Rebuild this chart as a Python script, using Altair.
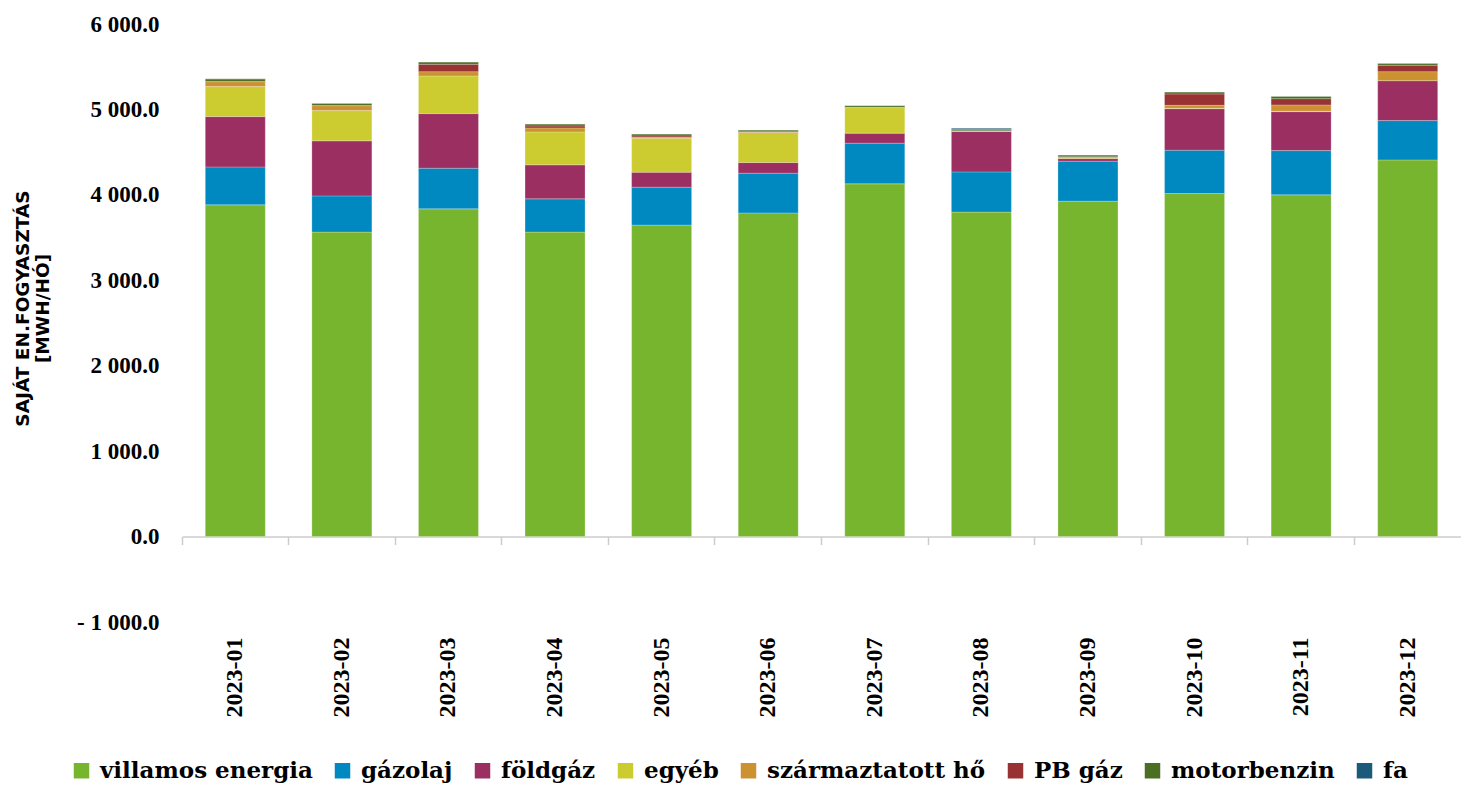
import altair as alt
import pandas as pd

months = ["2023-01", "2023-02", "2023-03", "2023-04", "2023-05", "2023-06",
          "2023-07", "2023-08", "2023-09", "2023-10", "2023-11", "2023-12"]
series_names = ["villamos energia", "gázolaj", "földgáz", "egyéb",
                "származtatott hő", "PB gáz", "motorbenzin", "fa"]
colors = ["#77B52F", "#0089C0", "#9B2F62", "#CCCC31",
          "#CC9131", "#993333", "#4A6F24", "#1B5A7A"]

villamos = [3883, 3564, 3836, 3564, 3646, 3789, 4129, 3798, 3926, 4015, 4000, 4409]
gazolaj = [444, 424, 476, 389, 444, 465, 476, 471, 468, 508, 518, 460]
foldgaz = [589, 644, 639, 398, 175, 124, 117, 476, 30, 486, 456, 468]
egyeb = [351, 354, 441, 386, 398, 351, 299, 0, 3, 5, 5, 0]
szarm = [58, 58, 50, 47, 10, 5, 3, 3, 15, 34, 74, 105]
pbgaz = [3, 3, 86, 23, 17, 5, 3, 3, 3, 133, 73, 75]
motor = [30, 25, 28, 23, 23, 20, 20, 18, 22, 24, 28, 23]
fa = [0, 0, 0, 0, 0, 0, 0, 12, 0, 0, 0, 0]

all_series = [villamos, gazolaj, foldgaz, egyeb, szarm, pbgaz, motor, fa]
rows = []
for si, (name, vals) in enumerate(zip(series_names, all_series)):
    for m, v in zip(months, vals):
        rows.append({"month": m, "series": name, "value": v, "order": si})
df = pd.DataFrame(rows)

SERIF = "Liberation Serif"
GRAY = "#CCCCCC"
H = 598
W = 1279
ZERO_OFFSET = -H * 1000 / 7000

label_expr = ("(datum.value < 0 ? '- ' : '') + "
              "replace(format(abs(datum.value), ',.1f'), ',', ' ')")

x_enc = alt.X("month:N", sort=months,
              scale=alt.Scale(paddingInner=0.437, paddingOuter=0.2185),
              axis=alt.Axis(title=None, orient="bottom", domain=False, ticks=False,
                            labelAngle=270, labelAlign="right", labelBaseline="middle",
                            labelPadding=15, labelFont=SERIF, labelFontSize=24,
                            labelFontWeight="bold", labelColor="#000000"))

bars = alt.Chart(df).mark_bar(stroke="white", strokeWidth=0.4, strokeOpacity=0.6).encode(
    x=x_enc,
    y=alt.Y("sum(value):Q",
            scale=alt.Scale(domain=[-1000, 6000], nice=False, zero=False),
            axis=alt.Axis(title=["SAJÁT EN.FOGYASZTÁS", "[MWH/HÓ]"],
                          titleFont="DejaVu Sans", titleFontSize=18.5,
                          titleFontWeight="bold", titleColor="#000000",
                          titlePadding=24, titleLineHeight=20, titleY=284,
                          values=[-1000, 0, 1000, 2000, 3000, 4000, 5000, 6000],
                          labelExpr=label_expr, labelFont=SERIF, labelFontSize=23,
                          labelFontWeight="bold", labelColor="#000000",
                          labelPadding=23, domain=False, ticks=False, grid=False)),
    color=alt.Color("series:N", sort=series_names,
                    scale=alt.Scale(domain=series_names, range=colors),
                    legend=alt.Legend(title=None, orient="none", direction="horizontal",
                                      legendX=-112, legendY=735,
                                      symbolType="square", symbolSize=240,
                                      symbolStrokeWidth=0, symbolOpacity=1,
                                      labelFont="DejaVu Serif", labelFontSize=23,
                                      labelFontWeight="bold", labelColor="#000000",
                                      columnPadding=18, labelOffset=7,
                                      labelLimit=400)),
    order=alt.Order("order:Q", sort="ascending"),
)

zero_axis = alt.Chart(pd.DataFrame({"month": months, "value": [0] * 12})).mark_bar(opacity=0).encode(
    x=alt.X("month:N", sort=months,
            scale=alt.Scale(paddingInner=0, paddingOuter=0),
            axis=alt.Axis(title=None, orient="bottom", labels=False, domain=True,
                          domainColor=GRAY, domainWidth=1.5, ticks=True, tickColor=GRAY,
                          tickWidth=1.5, tickSize=8, bandPosition=0,
                          offset=ZERO_OFFSET, grid=False)),
    y=alt.Y("value:Q"),
)

chart = alt.layer(bars, zero_axis).resolve_scale(x="independent").resolve_axis(
    x="independent"
).properties(
    width=W, height=H, background="white",
    padding={"left": 5, "top": 5, "right": 0, "bottom": 0},
).configure_view(strokeWidth=0, stroke="transparent")

chart.save("out.html", embed_options={"renderer": "svg", "actions": False})
